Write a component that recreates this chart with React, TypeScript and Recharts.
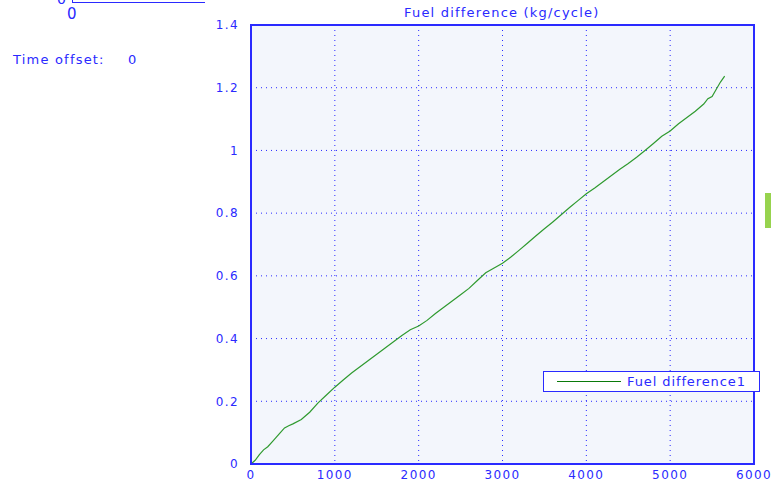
import { LineChart, Line, XAxis, YAxis, CartesianGrid, ReferenceArea } from "recharts";

const cycles = [
  0, 50, 100, 150, 200, 250, 300, 350, 400, 450, 500, 600, 700, 800, 900, 1000, 1100, 1200, 1300,
  1400, 1500, 1600, 1700, 1800, 1900, 2000, 2100, 2200, 2300, 2400, 2500, 2600, 2700, 2800, 2900,
  3000, 3100, 3200, 3300, 3400, 3500, 3600, 3700, 3800, 3900, 4000, 4100, 4200, 4300, 4400, 4500,
  4600, 4700, 4800, 4900, 5000, 5100, 5200, 5300, 5400, 5450, 5500, 5550, 5600, 5650,
];

const fuelDiff = [
  0, 0.012, 0.03, 0.045, 0.055, 0.07, 0.085, 0.1, 0.115, 0.122, 0.128, 0.142, 0.165, 0.195, 0.22,
  0.245, 0.268, 0.29, 0.31, 0.33, 0.35, 0.37, 0.39, 0.41, 0.428, 0.44, 0.458, 0.48, 0.5, 0.52, 0.54,
  0.56, 0.585, 0.61, 0.625, 0.64, 0.66, 0.682, 0.705, 0.728, 0.75, 0.772, 0.795, 0.818, 0.84, 0.862,
  0.88, 0.9, 0.92, 0.94, 0.958, 0.978, 1.0, 1.022, 1.045, 1.062, 1.085, 1.105, 1.125, 1.148, 1.165,
  1.172, 1.195, 1.218, 1.237,
];

const xTicks = [0, 1000, 2000, 3000, 4000, 5000, 6000];
const yTicks = [0, 0.2, 0.4, 0.6, 0.8, 1, 1.2, 1.4];

const BLUE = "#2a2aff";
const FONT = "'DejaVu Sans', Verdana, sans-serif";

const data = cycles.map((c, i) => ({ cycle: c, fuel: fuelDiff[i] }));

const label: React.CSSProperties = {
  position: "absolute",
  fontFamily: FONT,
  fontSize: 13,
  letterSpacing: 1.2,
  color: BLUE,
  whiteSpace: "nowrap",
  lineHeight: "14px",
};

export default function App() {
  const tickStyle = { fill: BLUE, fontSize: 12, fontFamily: FONT, letterSpacing: 1.4 };
  return (
    <div style={{ position: "absolute", left: 0, top: 0, width: 771, height: 482, background: "#fff", overflow: "hidden" }}>
      {/* scope header leftovers */}
      <div style={{ position: "absolute", left: 72, top: -2, width: 132, height: 4, borderLeft: `1px solid ${BLUE}`, borderBottom: `1px solid ${BLUE}` }} />
      <div style={{ ...label, left: 57, top: -8, fontSize: 14 }}>0</div>
      <div style={{ ...label, left: 67, top: 7, fontSize: 15 }}>0</div>
      <div style={{ ...label, left: 13, top: 53 }}>Time offset:</div>
      <div style={{ ...label, left: 128, top: 53 }}>0</div>
      <div style={{ ...label, left: 404, top: 6 }}>Fuel difference (kg/cycle)</div>
      <div style={{ position: "absolute", left: 765, top: 193, width: 8, height: 35, background: "#97d34e" }} />
      <LineChart width={771} height={482} data={data} margin={{ top: 25, right: 17, bottom: 0, left: 205 }}>
        <CartesianGrid
          fill="#f3f6fc"
          stroke={BLUE}
          strokeDasharray="1 4"
          horizontalValues={yTicks}
          verticalValues={xTicks}
        />
        <XAxis
          dataKey="cycle"
          type="number"
          domain={[0, 6000]}
          ticks={xTicks}
          height={18}
          tickLine={false}
          axisLine={{ stroke: BLUE, strokeWidth: 2 }}
          tick={tickStyle}
          tickMargin={0}
          interval={0}
        />
        <XAxis
          xAxisId="bin"
          dataKey="cycle"
          type="number"
          domain={[0, 6000]}
          ticks={xTicks}
          mirror
          height={0}
          tickSize={5}
          tick={false}
          axisLine={false}
          tickLine={{ stroke: BLUE }}
        />
        <XAxis
          xAxisId="top"
          orientation="top"
          dataKey="cycle"
          type="number"
          domain={[0, 6000]}
          ticks={xTicks}
          mirror
          height={0}
          tickSize={5}
          tick={false}
          axisLine={false}
          tickLine={{ stroke: BLUE }}
        />
        <YAxis
          type="number"
          domain={[0, 1.4]}
          ticks={yTicks}
          width={46}
          tickLine={false}
          axisLine={{ stroke: BLUE, strokeWidth: 2 }}
          tick={tickStyle}
          tickMargin={6}
          interval={0}
        />
        <YAxis
          yAxisId="lin"
          type="number"
          domain={[0, 1.4]}
          ticks={yTicks}
          mirror
          width={0}
          tickSize={5}
          tick={false}
          axisLine={false}
          tickLine={{ stroke: BLUE }}
        />
        <YAxis
          yAxisId="right"
          orientation="right"
          type="number"
          domain={[0, 1.4]}
          ticks={yTicks}
          mirror
          width={0}
          tickSize={8}
          tick={false}
          axisLine={false}
          tickLine={{ stroke: BLUE }}
        />
        <ReferenceArea x1={0} x2={6000} y1={0} y2={1.4} fill="none" stroke={BLUE} strokeWidth={2} />
        <Line
          type="linear"
          dataKey="fuel"
          name="Fuel difference1"
          stroke="#2f9a2f"
          strokeWidth={1.2}
          dot={false}
          isAnimationActive={false}
        />
      </LineChart>
      <div
        style={{
          position: "absolute",
          left: 543,
          top: 371,
          width: 215,
          height: 19,
          background: "#fff",
          border: `1px solid ${BLUE}`,
        }}
      >
        <div style={{ position: "absolute", left: 13, top: 9, width: 64, height: 1, background: "#0a7a0a" }} />
        <div style={{ ...label, left: 83, top: 3, letterSpacing: 0.9 }}>Fuel difference1</div>
      </div>
    </div>
  );
}
